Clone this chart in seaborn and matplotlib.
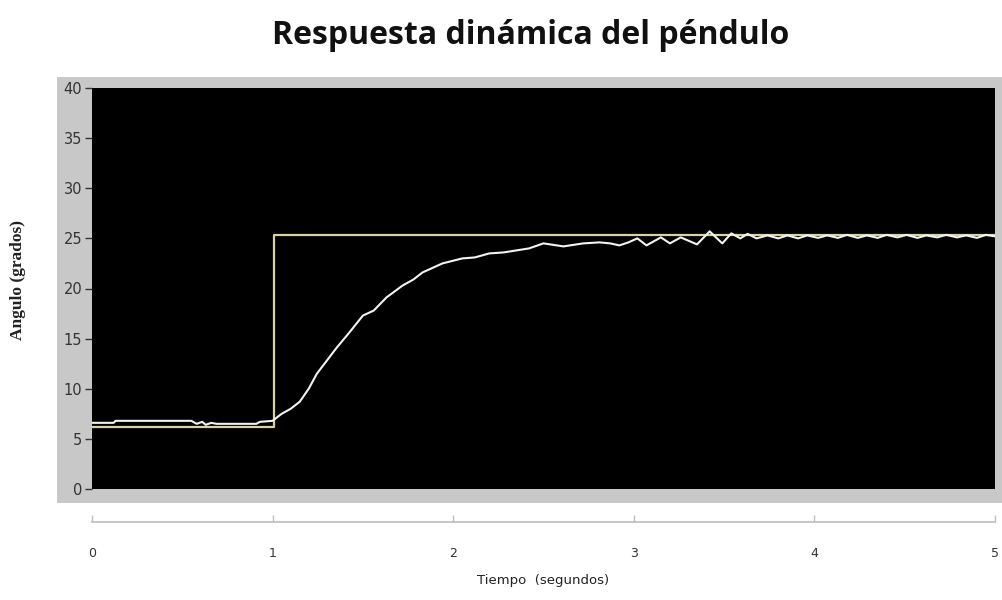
import numpy as np
import pandas as pd
import matplotlib
matplotlib.use("Agg")
import matplotlib.pyplot as plt
from matplotlib.patches import Rectangle
import seaborn as sns

# Data

ref_t = [0, 1.01, 1.01, 5]
ref_y = [6.2, 6.2, 25.3, 25.3]

resp_t = [0, 0.12, 0.13, 0.55, 0.58, 0.61, 0.63, 0.66, 0.69, 0.91, 0.93, 1.0,
          1.05, 1.10, 1.15, 1.20, 1.245, 1.30, 1.355, 1.42, 1.50, 1.56, 1.63,
          1.72, 1.78, 1.83, 1.94, 2.05, 2.12, 2.20, 2.28, 2.35, 2.42, 2.50,
          2.61, 2.72, 2.81, 2.87, 2.92, 2.97, 3.02, 3.07, 3.15, 3.20, 3.26,
          3.35, 3.42, 3.49, 3.54, 3.59, 3.63, 3.68, 3.74, 3.80, 3.85, 3.91,
          3.96, 4.02, 4.07, 4.13, 4.18, 4.24, 4.29, 4.35, 4.40, 4.46, 4.51,
          4.57, 4.62, 4.68, 4.73, 4.79, 4.84, 4.90, 4.95, 5.0]
resp_y = [6.6, 6.6, 6.8, 6.8, 6.5, 6.7, 6.4, 6.6, 6.5, 6.5, 6.7, 6.8,
          7.5, 8.0, 8.7, 10.0, 11.5, 12.8, 14.1, 15.5, 17.3, 17.8, 19.1,
          20.3, 20.9, 21.6, 22.5, 23.0, 23.1, 23.5, 23.6, 23.8, 24.0, 24.5,
          24.2, 24.5, 24.6, 24.5, 24.3, 24.6, 25.0, 24.3, 25.1, 24.5, 25.1,
          24.4, 25.7, 24.5, 25.5, 25.0, 25.45, 25.0, 25.3, 25.0, 25.3, 25.0,
          25.3, 25.05, 25.3, 25.05, 25.35, 25.05, 25.3, 25.05, 25.35, 25.1, 25.35,
          25.05, 25.3, 25.1, 25.35, 25.1, 25.3, 25.05, 25.35, 25.2]

y_ticks = [0, 5, 10, 15, 20, 25, 30, 35, 40]
x_ticks = [0, 1, 2, 3, 4, 5]

# Figure

W, H = 1003, 600
fig = plt.figure(figsize=(W / 100, H / 100), dpi=100)

# gray frame behind the plot
fig.patches.append(Rectangle((57 / W, 1 - 503 / H), (W - 57) / W, (503 - 77) / H,
                             transform=fig.transFigure, facecolor="#c8c8c8",
                             edgecolor="none", zorder=-1))

ax = fig.add_axes([92 / W, 1 - 489 / H, (995 - 92) / W, (489 - 88) / H])
ax.set_zorder(2)
ax.set_facecolor("black")

sns.lineplot(x=ref_t, y=ref_y, estimator=None, sort=False, ax=ax,
             color="#d9d2a6", linewidth=1.6)
sns.lineplot(x=resp_t, y=resp_y, estimator=None, sort=False, ax=ax,
             color="#f2f2f2", linewidth=1.5)

ax.set_xlim(0, 5)
ax.set_ylim(0, 40)
ax.set_yticks(y_ticks)
ax.set_yticklabels([str(v) for v in y_ticks])
ax.set_xticks(x_ticks)
ax.set_xticklabels([str(v) for v in x_ticks])

for s in ["top", "right", "left"]:
    ax.spines[s].set_visible(False)
ax.spines["bottom"].set_position(("outward", 24))
ax.spines["bottom"].set_bounds(0, 5)
ax.spines["bottom"].set_color("#bdbdbd")
ax.spines["bottom"].set_linewidth(1.2)

ax.tick_params(axis="y", direction="out", length=5, width=1, color="#333333",
               labelsize=10.5, labelcolor="#333333", pad=2)
ax.tick_params(axis="x", direction="in", length=5, width=1, color="#bdbdbd",
               labelsize=9, labelcolor="#333333", pad=18)

ax.set_xlabel("Tiempo  (segundos)", fontsize=9.5, color="#222222", labelpad=10)
ax.set_ylabel("")
fig.text(18 / W, 1 - 280 / H, "Angulo (grados)", rotation=90, ha="center",
         va="center", fontsize=12.5, fontweight="bold", color="#222222",
         family="Liberation Serif")

fig.text(531 / W, 1 - 35 / H, "Respuesta dinámica del péndulo", ha="center",
         va="center", fontsize=23, fontweight="bold", color="#111111",
         family="Open Sans")

fig.savefig("out.png", dpi=100)
